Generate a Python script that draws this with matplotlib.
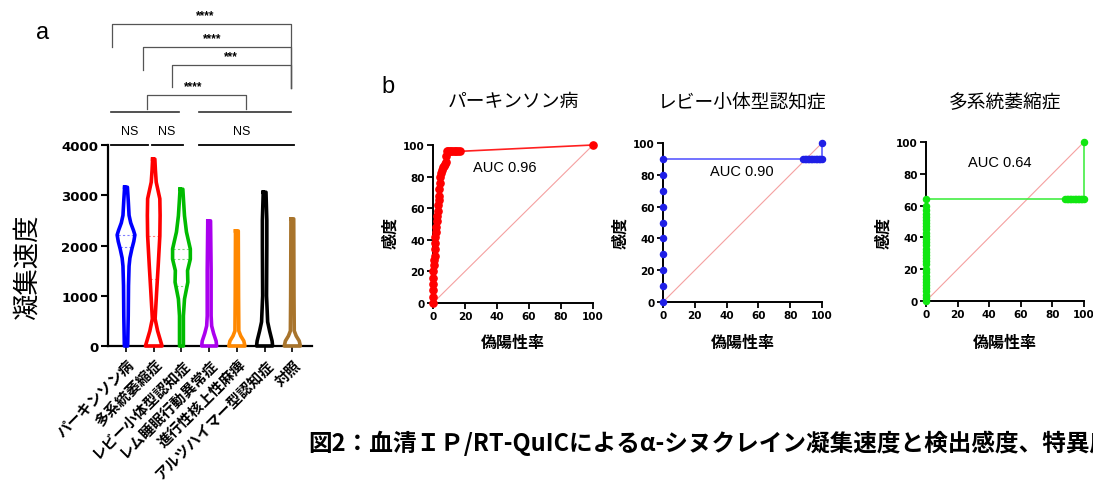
import matplotlib
matplotlib.use("Agg")
import matplotlib.pyplot as plt
import numpy as np

plt.rcParams['font.family'] = ['Liberation Sans', 'Noto Sans CJK JP', 'DejaVu Sans']

# ---- panel a: violin data (value levels from top to bottom, half widths in category units)
groups = ["パーキンソン病", "多系統萎縮症", "レビー小体型認知症", "レム睡眠行動異常症",
          "進行性核上性麻痺", "アルツハイマー型認知症", "対照"]
colors = ["#0000ff", "#ff0000", "#00bb00", "#aa00ee", "#ff8800", "#000000", "#a8742c"]

levels = [
    [3160, 2900, 2600, 2450, 2300, 2210, 2080, 1930, 1750, 1590, 1200, 600, 0],
    [3720, 3500, 3260, 2930, 2600, 2190, 1590, 1130, 740, 540, 300, 150, 0],
    [3120, 2850, 2590, 2270, 1930, 1730, 1500, 1270, 935, 600, 0],
    [2490, 1500, 600, 400, 250, 100, 0],
    [2290, 1000, 300, 200, 100, 0],
    [3060, 2500, 2000, 1000, 480, 300, 100, 0],
    [2530, 1000, 300, 200, 100, 0],
]
half_w = [
    [0.05, 0.08, 0.11, 0.17, 0.27, 0.32, 0.28, 0.21, 0.14, 0.11, 0.09, 0.08, 0.06],
    [0.04, 0.06, 0.09, 0.22, 0.23, 0.22, 0.16, 0.11, 0.07, 0.05, 0.14, 0.22, 0.30],
    [0.05, 0.08, 0.11, 0.18, 0.32, 0.32, 0.22, 0.23, 0.11, 0.07, 0.07],
    [0.05, 0.07, 0.07, 0.09, 0.16, 0.25, 0.27],
    [0.05, 0.06, 0.07, 0.14, 0.25, 0.29],
    [0.05, 0.08, 0.08, 0.07, 0.11, 0.18, 0.27, 0.29],
    [0.05, 0.06, 0.07, 0.14, 0.25, 0.29],
]
# dashed median/quartile lines (value, half width)
quart_lines = {0: [(2210, 0.3), (1980, 0.2)], 1: [(2190, 0.2), (1340, 0.12)],
               2: [(1940, 0.3), (1730, 0.3), (1200, 0.18)]}

# significance brackets: (left x, right x, top, left leg end, right leg end, label, label x)
brackets = [
    (0.76, 4.33, 4995, 4716, 4716, "****", 2.42),
    (1.66, 5.96, 5592, 5154, 5134, "***", 3.79),
    (0.61, 5.96, 5950, 5492, 5134, "****", 3.10),
    (-0.51, 5.96, 6408, 5950, 5134, "****", 2.85),
]
group_lines = [(-0.54, 1.91), (2.64, 5.96)]
ns_lines = [(-0.54, 0.79), (0.94, 2.06), (2.64, 6.06)]
ns_x = [0.14, 1.48, 4.19]

# ---- panel b: ROC data (false positive rate %, sensitivity %)
pd_fpr = [0, 0, 0, 0, 0, 0, 0.5, 0.5, 1, 1, 1.2, 1.5, 2, 2, 2.5, 2.8, 3, 3.3, 3.6, 3.8, 4, 4.2,
          4.4, 5, 5.5, 6.2, 6.8, 7.2, 7.9, 8.2, 8.5, 9.5, 10.5, 11.5, 12.5, 13.5, 14.5, 15.5, 16.9, 100]
pd_tpr = [0, 4, 8, 12, 16, 20, 24, 27, 30, 34, 38, 42, 45, 48, 52, 55, 58, 62, 65, 68, 72, 76,
          80, 82, 84, 86, 87, 88, 89, 93, 96, 96, 96, 96, 96, 96, 96, 96, 96, 100]

lbd_fpr = [0, 0, 0, 0, 0, 0, 0, 0, 0, 0, 88, 89, 90, 91, 92, 93, 94, 95, 96, 97, 98, 99, 100, 100]
lbd_tpr = [0, 10, 20, 30, 40, 50, 60, 70, 80, 90, 90, 90, 90, 90, 90, 90, 90, 90, 90, 90, 90, 90, 90, 100]

msa_fpr = [0, 0, 0, 0, 0, 0, 0, 0, 0, 0, 0, 0, 0, 0, 0, 0, 0, 0, 0, 0, 0, 0, 0, 0, 0, 0, 0, 0, 0, 0, 0,
           88, 89, 90, 91, 92, 93, 94, 95, 96, 97, 98, 99, 100, 100]
msa_tpr = [0, 2, 4, 6, 8, 10, 12, 14, 16, 18, 20, 23, 25, 27, 29, 31, 33, 35, 37, 39, 41, 43, 45, 47,
           49, 51, 53, 55, 57, 60, 64, 64, 64, 64, 64, 64, 64, 64, 64, 64, 64, 64, 64, 64, 100]

roc_titles = ["パーキンソン病", "レビー小体型認知症", "多系統萎縮症"]
roc_auc = ["AUC 0.96", "AUC 0.90", "AUC 0.64"]
roc_data = [(pd_fpr, pd_tpr), (lbd_fpr, lbd_tpr), (msa_fpr, msa_tpr)]
roc_marker_col = ["#ff0000", "#1f1fe6", "#11e611"]
roc_line_col = ["#ff2020", "#5a5aff", "#44ee44"]
roc_ms = [5.2, 4.4, 4.4]

caption = "図2：血清ＩＰ/RT-QuICによるα-シヌクレイン凝集速度と検出感度、特異度"

W, H = 1093, 489
fig = plt.figure(figsize=(W / 100, H / 100), dpi=100)


def box(x0, y0, x1, y1):
    return [x0 / W, 1 - y1 / H, (x1 - x0) / W, (y1 - y0) / H]


# ---------------- panel a
ax = fig.add_axes(box(108, 146, 312, 347))
for i in range(len(groups)):
    lv = np.array(levels[i])
    hw = np.array(half_w[i])
    xs = np.concatenate([i - hw, (i + hw)[::-1]])
    ys = np.concatenate([lv, lv[::-1]])
    ax.plot(np.append(xs, xs[0]), np.append(ys, ys[0]), color=colors[i], lw=2.6,
            solid_joinstyle='round', clip_on=False, zorder=3)
    for v, w in quart_lines.get(i, []):
        ax.plot([i - w, i + w], [v, v], color=colors[i], lw=0.8, ls=(0, (2, 2)), alpha=0.5)

ax.set_xlim(-0.65, 6.71)
ax.set_ylim(0, 4000)
ax.set_yticks([0, 1000, 2000, 3000, 4000])
ax.set_xticks(range(len(groups)))
ax.set_xticklabels(groups, rotation=45, ha='right', rotation_mode='anchor',
                   fontsize=10.5, fontweight='bold', family=['Noto Sans CJK JP'])
for lab in ax.get_yticklabels():
    lab.set_family('DejaVu Sans')
    lab.set_fontweight('bold')
    lab.set_fontsize(9.5)
ax.tick_params(axis='y', length=5, width=1.5, pad=2)
ax.tick_params(axis='x', length=4, width=1.2, pad=3)
for s in ['top', 'right']:
    ax.spines[s].set_visible(False)
for s in ['left', 'bottom']:
    ax.spines[s].set_linewidth(1.6)

for x0, x1 in ns_lines:
    ax.plot([x0, x1], [4000, 4000], color='black', lw=1.3, clip_on=False)
for x in ns_x:
    ax.text(x, 4160, "NS", ha='center', va='bottom', fontsize=9)
for x0, x1 in group_lines:
    ax.plot([x0, x1], [4657, 4657], color='#333333', lw=1.2, clip_on=False)
for x0, x1, top, l_end, r_end, lab, lx in brackets:
    ax.plot([x0, x0, x1, x1], [l_end, top, top, r_end], color='#555555', lw=0.9, clip_on=False)
    ax.text(lx, top + 60, lab, ha='center', va='bottom', fontsize=8.5, fontweight='bold')

fig.text(27 / W, 1 - 267 / H, "凝集速度", rotation=90, fontsize=19, ha='center', va='center')
fig.text(43 / W, 1 - 33 / H, "a", fontsize=17, ha='center', va='center')

# ---------------- panel b
roc_boxes = [(433, 146, 593, 304), (663, 144, 822, 303), (926, 143, 1084, 302)]
auc_pos = [(505, 168), (742, 172), (1000, 163)]
for k in range(3):
    x0, y0, x1, y1 = roc_boxes[k]
    a = fig.add_axes(box(x0, y0, x1, y1))
    fpr, tpr = roc_data[k]
    a.plot([0, 100], [0, 100], color='#f5a0a0', lw=0.8, zorder=1)
    a.plot(fpr, tpr, color=roc_line_col[k], lw=1.2, zorder=2, clip_on=False)
    a.plot(fpr, tpr, ls='none', marker='o', ms=roc_ms[k], color=roc_marker_col[k],
           zorder=3, clip_on=False)
    a.set_xlim(0, 100)
    a.set_ylim(0, 100)
    a.set_xticks([0, 20, 40, 60, 80, 100])
    a.set_yticks([0, 20, 40, 60, 80, 100])
    for lab in a.get_xticklabels() + a.get_yticklabels():
        lab.set_family('DejaVu Sans')
        lab.set_fontweight('bold')
        lab.set_fontsize(7.5)
    a.tick_params(length=4, width=1.3, pad=2)
    for s in ['top', 'right']:
        a.spines[s].set_visible(False)
    for s in ['left', 'bottom']:
        a.spines[s].set_linewidth(1.4)
    cx = (x0 + x1) / 2
    fig.text(cx / W, 1 - 103 / H, roc_titles[k], fontsize=13.5, ha='center', va='center')
    fig.text(auc_pos[k][0] / W, 1 - auc_pos[k][1] / H, roc_auc[k], fontsize=10.5,
             ha='center', va='center')
    fig.text(cx / W, 1 - 343 / H, "偽陽性率", fontsize=11.5, fontweight='bold',
             ha='center', va='center')
    fig.text((x0 - 43) / W, 1 - 233 / H, "感度", rotation=90, fontsize=11.5,
             fontweight='bold', ha='center', va='center')

fig.text(388 / W, 1 - 87 / H, "b", fontsize=17, ha='center', va='center')
fig.text(308 / W, 1 - 443 / H, caption, fontsize=17, fontweight='bold',
         family=['Noto Sans CJK JP'], ha='left', va='center')

fig.savefig("out.png", dpi=100)
